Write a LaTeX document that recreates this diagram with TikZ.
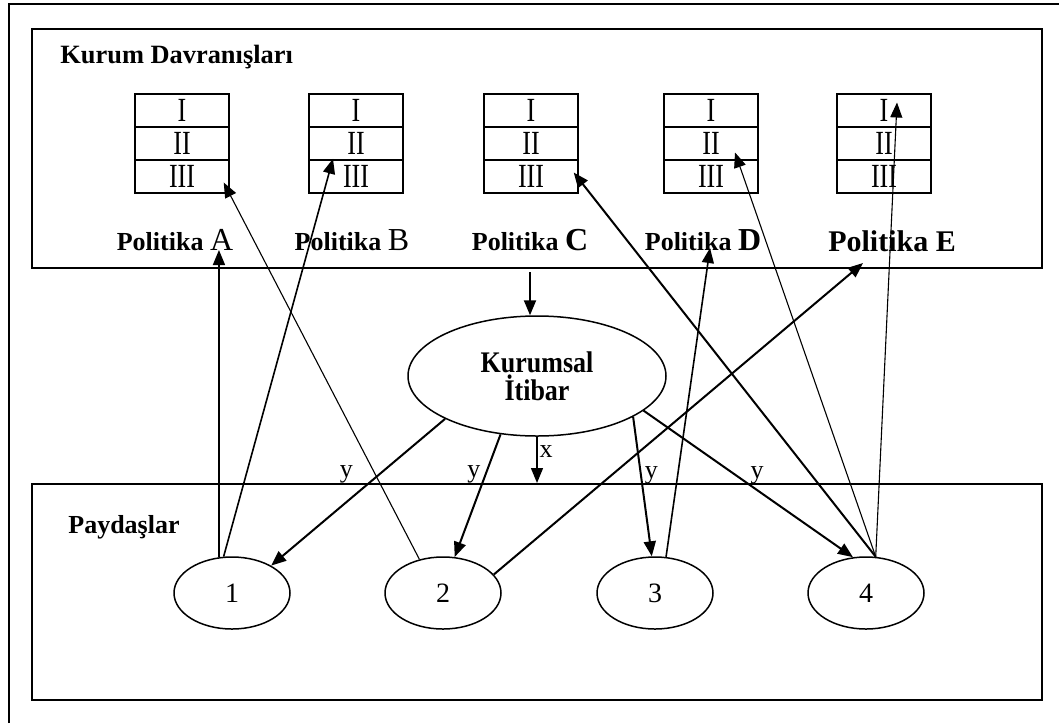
\documentclass[tikz,border=0pt]{standalone}
\usepackage{graphicx}
\usepackage{fontspec}
\setmainfont{Liberation Serif}
\usetikzlibrary{shapes,arrows.meta,positioning,calc}
\newcommand{\tallrn}[1]{\scalebox{1}[1.3]{#1}}
\newcommand{\talltx}[1]{\scalebox{1}[1.15]{#1}}
\tikzset{
  frame/.style={rectangle, draw=black, line width=1pt, inner sep=0pt, minimum width=505pt},
  cell/.style={rectangle, draw=black, line width=0.7pt, minimum width=47pt, minimum height=16.5pt, inner sep=0pt, font=\fontsize{13}{13}\selectfont},
  pol/.style={anchor=base, inner sep=0pt, font=\bfseries\fontsize{13}{13}\selectfont},
  hdr/.style={anchor=base west, inner sep=0pt, font=\bfseries\fontsize{13.2}{13.2}\selectfont},
  itibar/.style={ellipse, draw=black, line width=0.75pt, minimum width=129pt, minimum height=60pt, inner sep=0pt, align=center, font=\bfseries\fontsize{13}{12.5}\selectfont},
  pay/.style={ellipse, draw=black, line width=0.75pt, minimum width=58pt, minimum height=36pt, inner sep=0pt, font=\fontsize{14}{14}\selectfont},
  conn/.style={-{Triangle[length=7.5pt, width=6pt]}, line width=1pt, black},
  fconn/.style={conn, line width=0.55pt},
  lbl/.style={inner sep=1pt, font=\fontsize{13}{13}\selectfont}
}

\begin{document}
\begin{tikzpicture}[x=0.5pt, y=-0.5pt]
  \useasboundingbox (0,0) rectangle (1059,723);
  % outer frame
  \draw[line width=1pt] (9,723) -- (9,4) -- (1059,4);

  \node[frame, minimum height=119.5pt] (beh) at (537,148.5) {};
  \node[frame, minimum height=108pt] (stk) at (537,592) {};
  \node[hdr] (behlbl) at (60,63) {Kurum Davranışları};
  \node[hdr, font=\bfseries\fontsize{13}{13}\selectfont] (stklbl) at (68,533) {Paydaşlar};

  % policy tables
  \foreach \p/\x in {A/182,B/356,C/531,D/711,E/884}{
    \node[cell] (\p1) at (\x,110.5) {\tallrn{I}};
    \node[cell] (\p2) at (\x,143.5) {\tallrn{II}};
    \node[cell] (\p3) at (\x,176.5) {\tallrn{III}};
  }
  \node[pol] (polA) at (175,250) {Politika {\mdseries\fontsize{16}{16}\selectfont A}};
  \node[pol] (polB) at (352,250) {Politika {\mdseries\fontsize{16}{16}\selectfont B}};
  \node[pol] (polC) at (530,250) {Politika {\fontsize{16}{16}\selectfont C}};
  \node[pol] (polD) at (703,250) {Politika {\fontsize{16}{16}\selectfont D}};
  \node[pol, font=\bfseries\fontsize{15}{15}\selectfont] (polE) at (892,251) {Politika E};

  \node[itibar] (rep) at (537,376) {\talltx{Kurumsal}\\\talltx{İtibar}};
  \foreach \i/\x in {1/232,2/443,3/655,4/866}
    \node[pay] (s\i) at (\x,593) {\i};

  % reputation links
  \draw[conn] ([yshift=-11pt]polC.base) -- (polC.base |- rep.north);
  \draw[conn, line width=0.7pt] (rep.south) -- (stk.north) node[lbl, pos=0.33, right] {x};
  \draw[conn] (rep.205) -- (s1.35) node[lbl, pos=0.38, left=11.5pt] {y};
  \draw[conn] (rep.238) -- (s2.72) node[lbl, pos=0.33, left=1pt] {y};
  \draw[conn] (rep.-23) -- (s3.95) node[lbl, pos=0.42, right=0.5pt] {y};
  \draw[conn] (rep.-18) -- (s4.110) node[lbl, pos=0.44, right=6pt] {y};

  % stakeholder feedback
  \draw[conn, line width=0.8pt] (s1.110) -- (s1.110 |- polA.base);
  \draw[conn, line width=0.8pt] (s1.103) -- ($(B2.south)+(-23,-2)$);
  \draw[fconn] (s2.125) -- ($(A3.east)+(-6,6)$);
  \draw[conn] (s2.20) -- ($(polE.base)+(-29,12)$);
  \draw[conn, line width=0.8pt] (s3.73) -- ($(polD.base)+(7,-2)$);
  \draw[conn] (s4.75) -- ($(C3.east)+(-5,-4)$);
  \draw[fconn] (s4.75) -- ($(D2.center)+(24,9)$);
  \draw[fconn] (s4.75) -- ($(E1.center)+(13,-8)$);
\end{tikzpicture}
\end{document}
